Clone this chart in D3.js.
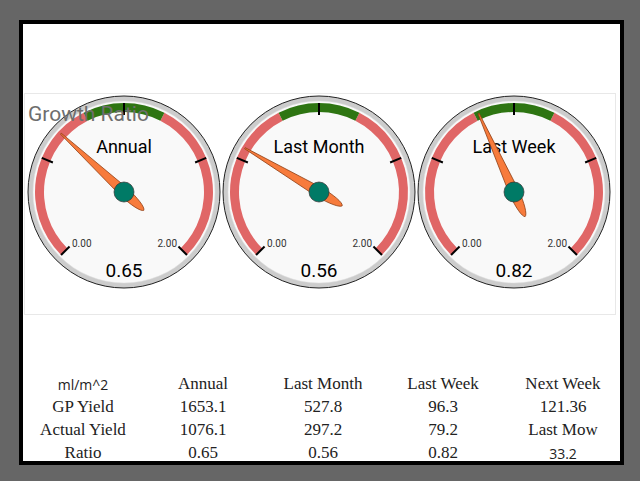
<!DOCTYPE html>
<html>
<head>
<meta charset="utf-8">
<script src="https://cdn.jsdelivr.net/npm/d3@7"></script>
<style>
  html, body { margin: 0; padding: 0; background: #666; }
  svg { display: block; }
</style>
</head>
<body>
<script>
// gauge data
var gaugeLabels = ["Annual", "Last Month", "Last Week"];
var gaugeValues = [0.65, 0.56, 0.82];
var gaugeDomain = [0, 2];
var majorTicks = [0, 0.5, 1, 1.5, 2];
var redBands = [[0, 0.8], [1.2, 2]];
var greenBands = [[0.8, 1.2]];

// table data
var tableHeader = ["ml/m^2", "Annual", "Last Month", "Last Week", "Next Week"];
var rowLabels = ["GP Yield", "Actual Yield", "Ratio"];
var gpYield = ["1653.1", "527.8", "96.3", "121.36"];
var actualYield = ["1076.1", "297.2", "79.2", "Last Mow"];
var ratio = ["0.65", "0.56", "0.82", "33.2"];

var width = 640, height = 481;

var svg = d3.select("body").append("svg")
    .attr("width", width)
    .attr("height", height);

// white card with black border
svg.append("rect")
    .attr("x", 21).attr("y", 22)
    .attr("width", 601).attr("height", 441)
    .attr("fill", "#fff")
    .attr("stroke", "#000")
    .attr("stroke-width", 4);

// gauge panel
svg.append("rect")
    .attr("x", 24.5).attr("y", 93.5)
    .attr("width", 591).attr("height", 221)
    .attr("fill", "#fff")
    .attr("stroke", "#e8e8e8");

var cx = d3.scalePoint().domain(gaugeLabels).range([124, 514]);
var cy = 192;
var R = 96;

var angle = d3.scaleLinear().domain(gaugeDomain).range([-135, 135]);
var rad = function(v){ return angle(v) * Math.PI / 180; };

var bandArc = d3.arc().innerRadius(80).outerRadius(89);

var gauges = svg.selectAll("g.gauge")
    .data(gaugeLabels)
    .enter().append("g")
    .attr("class", "gauge")
    .attr("transform", function(d){ return "translate(" + cx(d) + "," + cy + ")"; });

gauges.append("circle").attr("r", R)
    .attr("fill", "#ccc").attr("stroke", "#222").attr("stroke-width", 1);
gauges.append("circle").attr("r", 91)
    .attr("fill", "#f9f9f9").attr("stroke", "#e0e0e0").attr("stroke-width", 0.5);

gauges.each(function(){
    var g = d3.select(this);
    redBands.forEach(function(b){
        g.append("path")
            .attr("d", bandArc({startAngle: rad(b[0]), endAngle: rad(b[1])}))
            .attr("fill", "#e06666");
    });
    greenBands.forEach(function(b){
        g.append("path")
            .attr("d", bandArc({startAngle: rad(b[0]), endAngle: rad(b[1])}))
            .attr("fill", "#2e7512");
    });
    majorTicks.forEach(function(t){
        var a = rad(t);
        g.append("line")
            .attr("x1", 77 * Math.sin(a)).attr("y1", -77 * Math.cos(a))
            .attr("x2", 89 * Math.sin(a)).attr("y2", -89 * Math.cos(a))
            .attr("stroke", "#000").attr("stroke-width", 2);
    });
});

gauges.append("text")
    .attr("x", -52).attr("y", 55)
    .attr("font-family", "Roboto, sans-serif").attr("font-size", 10)
    .attr("fill", "#333")
    .text(d3.format(".2f")(gaugeDomain[0]));
gauges.append("text")
    .attr("x", 53).attr("y", 55)
    .attr("text-anchor", "end")
    .attr("font-family", "Roboto, sans-serif").attr("font-size", 10)
    .attr("fill", "#333")
    .text(d3.format(".2f")(gaugeDomain[1]));

gauges.append("text")
    .attr("y", -39)
    .attr("text-anchor", "middle")
    .attr("font-family", "Roboto, sans-serif").attr("font-size", 18)
    .attr("fill", "#000")
    .text(function(d){ return d; });

gauges.append("text")
    .attr("y", 85)
    .attr("text-anchor", "middle")
    .attr("font-family", "Roboto, sans-serif").attr("font-size", 19)
    .attr("fill", "#000")
    .text(function(d, i){ return d3.format(".2f")(gaugeValues[i]); });

// needle
var needlePath = "M-0.6,-86 L0.6,-86 L5,0 C5,14 3,26 0,27 C-3,26 -5,14 -5,0 Z";
gauges.append("path")
    .attr("d", needlePath)
    .attr("transform", function(d, i){ return "rotate(" + angle(gaugeValues[i]) + ")"; })
    .attr("fill", "#f77b3c")
    .attr("stroke", "#8a3a10")
    .attr("stroke-width", 0.7);

gauges.append("circle").attr("r", 10)
    .attr("fill", "#007a66").attr("stroke", "#333").attr("stroke-width", 0.7);

svg.append("text")
    .attr("x", 28).attr("y", 121)
    .attr("font-family", "Roboto, sans-serif").attr("font-size", 21)
    .attr("fill", "#6e6e6e")
    .text("Growth Ratio");

// table
var col = d3.scalePoint().domain(d3.range(5)).range([83, 563]);
var rowY = d3.scalePoint().domain(d3.range(4)).range([389, 458]);

var serif = "'Liberation Serif', serif";
var sans = "'Open Sans', 'Noto Sans', sans-serif";

var rows = [tableHeader,
    [rowLabels[0]].concat(gpYield),
    [rowLabels[1]].concat(actualYield),
    [rowLabels[2]].concat(ratio)];

rows.forEach(function(r, ri){
    r.forEach(function(cell, ci){
        var isSans = (cell === "ml/m^2" || cell === "33.2");
        svg.append("text")
            .attr("x", col(ci))
            .attr("y", rowY(ri) + (isSans ? 1 : 0))
            .attr("text-anchor", "middle")
            .attr("font-family", isSans ? sans : serif)
            .attr("font-size", isSans ? 14 : 17)
            .attr("fill", "#222")
            .text(cell);
    });
});
</script>
</body>
</html>
